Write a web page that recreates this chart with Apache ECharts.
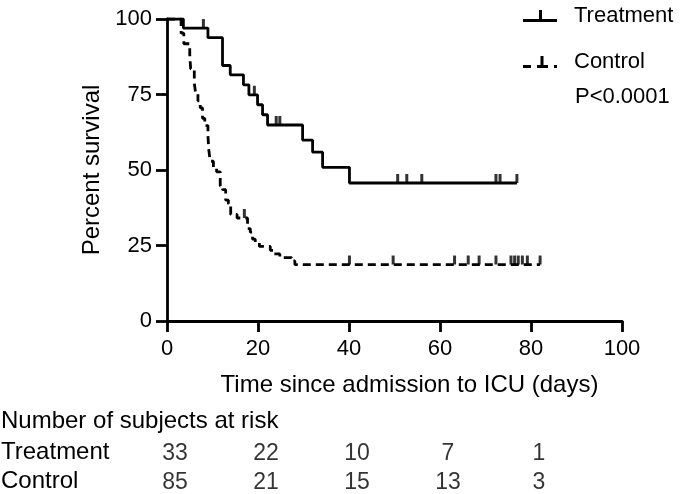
<!DOCTYPE html>
<html>
<head>
<meta charset="utf-8">
<script src="https://cdn.jsdelivr.net/npm/echarts@6/dist/echarts.min.js"></script>
<style>html,body{margin:0;padding:0;background:#fff;}#c{width:690px;height:494px;}</style>
</head>
<body>
<div id="c"></div>
<script>
// Kaplan-Meier steps: [day, percent surviving]
var treatmentSteps = [[0,100],[3.6,97.0],[9.0,93.8],[12.2,84.6],[13.9,81.5],[16.8,78.2],[18.0,74.9],[19.9,71.6],[21.0,68.3],[22.1,64.9],[29.8,59.9],[32.0,55.9],[34.2,50.9],[40.1,45.7],[76.9,45.7]];
var treatmentCensored = [[8.0,97.0],[19.2,74.9],[24.0,64.9],[24.8,64.9],[50.7,45.7],[52.7,45.7],[56.0,45.7],[72.3,45.7],[73.2,45.7],[76.9,45.7]];
var controlSteps = [[0,100],[3.1,95.3],[3.7,91.8],[5.0,88.2],[5.2,83.5],[6.0,78.8],[6.3,75.3],[6.8,72.9],[7.3,70.6],[7.8,67.1],[8.3,64.7],[9.0,61.2],[9.2,56.5],[9.5,52.9],[10.2,50.6],[10.9,49.4],[11.7,44.7],[12.2,43.5],[12.9,40.0],[13.5,38.8],[14.0,35.3],[15.4,34.1],[17.7,30.6],[18.3,29.4],[18.8,27.1],[19.4,25.9],[20.3,24.7],[22.7,23.4],[23.4,22.2],[24.8,21.0],[27.4,19.9],[28.1,18.7],[82.0,18.7]];
var controlCensored = [[17.0,34.1],[40.1,18.7],[49.7,18.7],[63.2,18.7],[66.2,18.7],[68.6,18.7],[72.3,18.7],[75.6,18.7],[76.4,18.7],[77.2,18.7],[78.1,18.7],[79.2,18.7],[82.0,18.7]];
var xTicks = [0,20,40,60,80,100];
var yTicks = [0,25,50,75,100];
var riskTimes = [0,20,40,60,80];
var riskTreatment = [33,22,10,7,1];
var riskControl = [85,21,15,13,3];
var seriesNames = ['Treatment','Control'];
var pText = 'P<0.0001';

var FONT = 'Liberation Sans, Arial, sans-serif';
var FS = 22;   // tick labels, legend
var FT = 24;   // axis titles, table text
var chart = echarts.init(document.getElementById('c'), null, {renderer:'canvas'});

var riskData = [];
riskTimes.forEach(function(t,i){ riskData.push([t,1,riskTreatment[i]]); });
riskTimes.forEach(function(t,i){ riskData.push([t,0,riskControl[i]]); });

var tIcon = 'path://M0,9L34,9L34,12L0,12Z M16,0L19,0L19,10L16,10Z';
var cIcon = 'path://M0,9L8,9L8,12L0,12Z M14,9L25,9L25,12L14,12Z M17.5,0L20.5,0L20.5,10L17.5,10Z M31,9L34,9L34,12L31,12Z';

var option = {
  animation:false,
  backgroundColor:'#fff',
  textStyle:{fontFamily:FONT},
  grid:[
    {left:167, right:68, top:19, bottom:173, containLabel:false},
    {left:167, right:68, top:454, height:29, containLabel:false}
  ],
  legend:[
    {data:[{name:seriesNames[0], icon:tIcon}], orient:'vertical', left:518, top:0, itemWidth:34, itemHeight:12,
     textStyle:{fontSize:FS, color:'#000', fontFamily:FONT, padding:[0,0,0,12]}, selectedMode:false},
    {data:[{name:seriesNames[1], icon:cIcon}], orient:'vertical', left:518, top:46, itemWidth:34, itemHeight:12,
     textStyle:{fontSize:FS, color:'#000', fontFamily:FONT, padding:[0,0,0,12]}, selectedMode:false}
  ],
  xAxis:[
    {type:'value', gridIndex:0, min:0, max:100, interval:20,
     name:'Time since admission to ICU (days)', nameLocation:'middle', nameGap:52,
     nameTextStyle:{fontSize:FT, color:'#000', fontFamily:FONT, padding:[0,0,0,30]},
     axisLine:{lineStyle:{color:'#000', width:2.8}},
     axisTick:{show:true, inside:false, length:11, lineStyle:{color:'#000', width:2.8}},
     axisLabel:{fontSize:FS, color:'#000', margin:17, fontFamily:FONT},
     splitLine:{show:false}},
    {type:'value', gridIndex:1, min:0, max:100, show:false}
  ],
  yAxis:[
    {type:'value', gridIndex:0, min:0, max:100, interval:25,
     name:'Percent survival', nameLocation:'middle', nameGap:45, nameRotate:90,
     nameTextStyle:{fontSize:FT, color:'#000', fontFamily:FONT},
     axisLine:{show:true, lineStyle:{color:'#000', width:2.8}},
     axisTick:{show:true, inside:false, length:11, lineStyle:{color:'#000', width:2.8}},
     axisLabel:{fontSize:FS, color:'#000', margin:15, fontFamily:FONT},
     splitLine:{show:false}},
    {type:'value', gridIndex:1, min:0, max:1, show:false}
  ],
  series:[
    {name:seriesNames[0], type:'line', step:'end', xAxisIndex:0, yAxisIndex:0, data:treatmentSteps,
     showSymbol:false, symbol:'none', lineStyle:{color:'#000', width:2.8}, itemStyle:{color:'#000'}, z:3},
    {name:seriesNames[1], type:'line', step:'end', xAxisIndex:0, yAxisIndex:0, data:controlSteps,
     showSymbol:false, symbol:'none', lineStyle:{color:'#000', width:2.8, type:[8,5]}, itemStyle:{color:'#000'}, z:3},
    {name:seriesNames[0]+' censored', type:'scatter', xAxisIndex:0, yAxisIndex:0, data:treatmentCensored,
     symbol:'rect', symbolSize:[3,9], symbolOffset:[0,-4.5], itemStyle:{color:'#000'}, z:4},
    {name:seriesNames[1]+' censored', type:'scatter', xAxisIndex:0, yAxisIndex:0, data:controlCensored,
     symbol:'rect', symbolSize:[3,9], symbolOffset:[0,-4.5], itemStyle:{color:'#000'}, z:4},
    {name:'risk', type:'scatter', xAxisIndex:1, yAxisIndex:1, data:riskData, symbolSize:0.1,
     itemStyle:{color:'transparent'},
     label:{show:true, position:'inside', offset:[8,0], fontSize:FS+1, color:'#000', fontFamily:FONT,
       formatter:function(p){return String(p.value[2]);}}}
  ],
  graphic:[
    {type:'text', left:575, top:86, style:{text:pText, font:FS+'px '+FONT, fill:'#000'}},
    {type:'text', left:1, top:409, style:{text:'Number of subjects at risk', font:FT+'px '+FONT, fill:'#000'}},
    {type:'text', left:1, top:440, style:{text:seriesNames[0], font:FT+'px '+FONT, fill:'#000'}},
    {type:'text', left:1, top:469, style:{text:seriesNames[1], font:FT+'px '+FONT, fill:'#000'}}
  ]
};
chart.setOption(option);
</script>
</body>
</html>
